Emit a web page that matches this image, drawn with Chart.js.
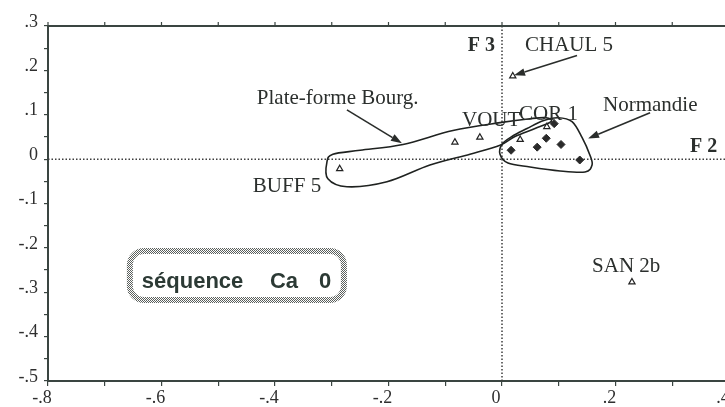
<!DOCTYPE html>
<html>
<head>
<meta charset="utf-8">
<script src="https://cdn.jsdelivr.net/npm/chart.js@4.4.1/dist/chart.umd.min.js"></script>
<style>
  html, body { margin: 0; padding: 0; overflow: hidden; background: #fff; }
  #wrap { width: 745px; height: 407px; position: relative; }
</style>
</head>
<body>
<div id="wrap"><canvas id="c"></canvas></div>
<script>
// Factorial plane F2 (horizontal) x F3 (vertical)

// Open triangles: individual sites
const siteNames = ['CHAUL 5', 'VOUT a', 'VOUT b', 'BUFF 5', 'COR 1 a', 'COR 1 b', 'SAN 2b'];
const siteF2 = [0.019, -0.083, -0.039, -0.286, 0.032, 0.079, 0.229];
const siteF3 = [0.187, 0.038, 0.049, -0.022, 0.044, 0.073, -0.277];

// Filled diamonds: Normandie group
const normandieF2 = [0.016, 0.062, 0.078, 0.104, 0.137, 0.092];
const normandieF3 = [0.020, 0.027, 0.047, 0.033, -0.002, 0.080];

// Axis ticks and their printed labels
const xTickValues = [-0.8, -0.6, -0.4, -0.2, 0, 0.2, 0.4];
const xTickLabels = ['-.8', '-.6', '-.4', '-.2', '0', '.2', '.4'];
const yTickValues = [0.3, 0.2, 0.1, 0, -0.1, -0.2, -0.3, -0.4, -0.5];
const yTickLabels = ['.3', '.2', '.1', '0', '-.1', '-.2', '-.3', '-.4', '-.5'];

// Hand-drawn envelopes around the groups (F2, F3)
const plateFormeOutline = [
  [-0.3085, -0.0067], [-0.298, 0.011], [-0.250, 0.020], [-0.1745, 0.033],
  [-0.0864, 0.0644], [-0.0035, 0.0822], [0.0494, 0.0911], [0.0776, 0.0933],
  [0.0864, 0.0844], [0.0582, 0.0689], [0.0229, 0.0511], [-0.0035, 0.0311],
  [-0.0564, 0.0111], [-0.127, -0.0133], [-0.2027, -0.0511], [-0.2733, -0.0622],
  [-0.3068, -0.0444]
];
const normandieOutline = [
  [0.0987, 0.0933], [0.1234, 0.0844], [0.141, 0.0489], [0.155, 0.0089],
  [0.1587, -0.0133], [0.1463, -0.0289], [0.1023, -0.0267], [0.0494, -0.0178],
  [0.0106, -0.0089], [-0.0035, 0.0111], [0.0, 0.0333], [0.0176, 0.0511],
  [0.0441, 0.0689], [0.0723, 0.0867]
];

// Pointer arrows: [fromF2, fromF3, toF2, toF3]
const arrows = [
  [0.1322, 0.2333, 0.0212, 0.1889],
  [-0.2733, 0.1111, -0.1763, 0.0356],
  [0.2609, 0.1044, 0.1516, 0.0467]
];

// Text annotations placed in plot units
const SERIF = '"Liberation Serif", "Times New Roman", serif';
const SANS = '"Liberation Sans", Arial, Helvetica, sans-serif';
const notes = [
  { text: 'CHAUL 5', x: 0.0405, y: 0.2444, font: '21px ' + SERIF, align: 'left' },
  { text: 'F 3', x: -0.0123, y: 0.2444, font: 'bold 20px ' + SERIF, align: 'right' },
  { text: 'Plate-forme Bourg.', x: -0.432, y: 0.1244, font: '21px ' + SERIF, align: 'left' },
  { text: 'VOUT', x: -0.0705, y: 0.0756, font: '21px ' + SERIF, align: 'left' },
  { text: 'COR 1', x: 0.030, y: 0.0889, font: '21px ' + SERIF, align: 'left' },
  { text: 'Normandie', x: 0.178, y: 0.1089, font: '21px ' + SERIF, align: 'left' },
  { text: 'F 2', x: 0.3314, y: 0.0156, font: 'bold 20px ' + SERIF, align: 'left' },
  { text: 'BUFF 5', x: -0.439, y: -0.0733, font: '21px ' + SERIF, align: 'left' },
  { text: 'SAN 2b', x: 0.1587, y: -0.2544, font: '21px ' + SERIF, align: 'left' }
];

// Title box: outer corners in plot units and its words
const boxCorners = [-0.661, -0.2003, -0.2733, -0.3242];
const boxWords = [
  { text: 'séquence', x: -0.6347 },
  { text: 'Ca', x: -0.409 },
  { text: '0', x: -0.3226 }
];
const boxBaseline = -0.2904;

const INK = '#2b2f2d';
const AXIS = '#3a4541';

function labelFor(values, labels, v) {
  for (let i = 0; i < values.length; i++) {
    if (Math.abs(values[i] - v) < 1e-6) return labels[i];
  }
  return '';
}

function closedCurve(ctx, pts) {
  const n = pts.length;
  ctx.beginPath();
  ctx.moveTo(pts[0][0], pts[0][1]);
  for (let i = 0; i < n; i++) {
    const p0 = pts[(i - 1 + n) % n], p1 = pts[i], p2 = pts[(i + 1) % n], p3 = pts[(i + 2) % n];
    const t = 1 / 6;
    ctx.bezierCurveTo(
      p1[0] + (p2[0] - p0[0]) * t, p1[1] + (p2[1] - p0[1]) * t,
      p2[0] - (p3[0] - p1[0]) * t, p2[1] - (p3[1] - p1[1]) * t,
      p2[0], p2[1]);
  }
  ctx.closePath();
  ctx.stroke();
}

function checkerPattern(ctx) {
  const c = document.createElement('canvas');
  c.width = 2; c.height = 2;
  const g = c.getContext('2d');
  g.fillStyle = '#ffffff'; g.fillRect(0, 0, 2, 2);
  g.fillStyle = '#5a5f5c';
  g.fillRect(0, 0, 1, 1); g.fillRect(1, 1, 1, 1);
  return ctx.createPattern(c, 'repeat');
}

const underlay = {
  id: 'underlay',
  beforeDatasetsDraw(chart) {
    const { ctx, chartArea: a, scales: { x, y } } = chart;
    ctx.save();
    // dotted origin lines
    ctx.strokeStyle = '#3d3d3d';
    ctx.lineWidth = 1.5;
    ctx.setLineDash([1.5, 2]);
    const x0 = x.getPixelForValue(0), y0 = y.getPixelForValue(0);
    ctx.beginPath();
    ctx.moveTo(a.left, y0); ctx.lineTo(chart.width, y0);
    ctx.moveTo(x0, a.top); ctx.lineTo(x0, a.bottom);
    ctx.stroke();
    ctx.setLineDash([]);

    // top frame line with upward ticks
    ctx.strokeStyle = AXIS;
    ctx.lineWidth = 2;
    ctx.beginPath();
    ctx.moveTo(a.left - 1, a.top); ctx.lineTo(chart.width, a.top);
    ctx.stroke();
    ctx.lineWidth = 1.2;
    ctx.beginPath();
    for (let v = -8; v <= 4; v++) {
      const px = x.getPixelForValue(v / 10);
      ctx.moveTo(px, a.top); ctx.lineTo(px, a.top - 4);
    }
    ctx.stroke();

    // envelopes
    ctx.strokeStyle = '#1f2220';
    ctx.lineWidth = 1.6;
    [plateFormeOutline, normandieOutline].forEach(outline => {
      closedCurve(ctx, outline.map(p => [x.getPixelForValue(p[0]), y.getPixelForValue(p[1])]));
    });
    ctx.restore();
  },
  afterDatasetsDraw(chart) {
    const { ctx, scales: { x, y } } = chart;
    ctx.save();
    // arrows
    ctx.strokeStyle = '#2a2d2b';
    ctx.fillStyle = '#2a2d2b';
    ctx.lineWidth = 1.6;
    arrows.forEach(a => {
      const fx = x.getPixelForValue(a[0]), fy = y.getPixelForValue(a[1]);
      const tx = x.getPixelForValue(a[2]), ty = y.getPixelForValue(a[3]);
      const ang = Math.atan2(ty - fy, tx - fx);
      const L = 11, W = 3.8;
      const bx = tx - Math.cos(ang) * L, by = ty - Math.sin(ang) * L;
      ctx.beginPath(); ctx.moveTo(fx, fy); ctx.lineTo(bx, by); ctx.stroke();
      ctx.beginPath();
      ctx.moveTo(tx, ty);
      ctx.lineTo(bx + Math.sin(ang) * W, by - Math.cos(ang) * W);
      ctx.lineTo(bx - Math.sin(ang) * W, by + Math.cos(ang) * W);
      ctx.closePath(); ctx.fill();
    });

    // annotations
    ctx.fillStyle = INK;
    ctx.textBaseline = 'alphabetic';
    notes.forEach(n => {
      ctx.font = n.font;
      ctx.textAlign = n.align;
      ctx.fillText(n.text, x.getPixelForValue(n.x), y.getPixelForValue(n.y));
    });

    // title box with halftone border
    const L = x.getPixelForValue(boxCorners[0]), T = y.getPixelForValue(boxCorners[1]);
    const R = x.getPixelForValue(boxCorners[2]), B = y.getPixelForValue(boxCorners[3]);
    const bw = 6, r = 14;
    ctx.beginPath();
    ctx.roundRect(L + bw / 2, T + bw / 2, R - L - bw, B - T - bw, r);
    ctx.strokeStyle = checkerPattern(ctx);
    ctx.lineWidth = bw;
    ctx.stroke();
    ctx.fillStyle = '#2c3a35';
    ctx.font = 'bold 22px ' + SANS;
    ctx.textAlign = 'left';
    boxWords.forEach(w => ctx.fillText(w.text, x.getPixelForValue(w.x), y.getPixelForValue(boxBaseline)));
    ctx.restore();
  }
};

const tickFont = { family: SERIF, size: 18 };

new Chart(document.getElementById('c'), {
  type: 'scatter',
  data: {
    datasets: [
      {
        label: 'sites',
        data: siteF2.map((v, i) => ({ x: v, y: siteF3[i] })),
        pointStyle: 'triangle',
        radius: 3.6,
        borderWidth: 1.2,
        borderColor: '#222',
        backgroundColor: '#ffffff'
      },
      {
        label: 'Normandie',
        data: normandieF2.map((v, i) => ({ x: v, y: normandieF3[i] })),
        pointStyle: 'rectRot',
        radius: 4,
        borderWidth: 1,
        borderColor: '#2a2a2a',
        backgroundColor: '#2a2a2a'
      }
    ]
  },
  options: {
    responsive: true,
    maintainAspectRatio: false,
    animation: false,
    events: [],
    layout: { padding: { left: 0, right: 16, top: 26, bottom: 0 } },
    plugins: { legend: { display: false }, tooltip: { enabled: false }, title: { display: false } },
    scales: {
      x: {
        type: 'linear',
        min: -0.8, max: 0.4,
        afterFit(s) { s.height = 26; },
        ticks: {
          stepSize: 0.1,
          autoSkip: false,
          maxRotation: 0,
          font: tickFont,
          color: '#2f2f2f',
          padding: 1,
          labelOffset: -6,
          callback: v => labelFor(xTickValues, xTickLabels, v)
        },
        grid: { drawOnChartArea: false, drawTicks: true, tickLength: 5, color: AXIS, lineWidth: 1.2 },
        border: { display: true, color: AXIS, width: 2 }
      },
      y: {
        type: 'linear',
        min: -0.5, max: 0.3,
        afterFit(s) { s.width = 48; },
        ticks: {
          stepSize: 0.05,
          autoSkip: false,
          font: tickFont,
          color: '#2f2f2f',
          padding: 6,
          labelOffset: -4,
          callback: v => labelFor(yTickValues, yTickLabels, v)
        },
        grid: { drawOnChartArea: false, drawTicks: true, tickLength: 4, color: AXIS, lineWidth: 1.2 },
        border: { display: true, color: AXIS, width: 2 }
      }
    }
  },
  plugins: [underlay]
});
</script>
</body>
</html>
